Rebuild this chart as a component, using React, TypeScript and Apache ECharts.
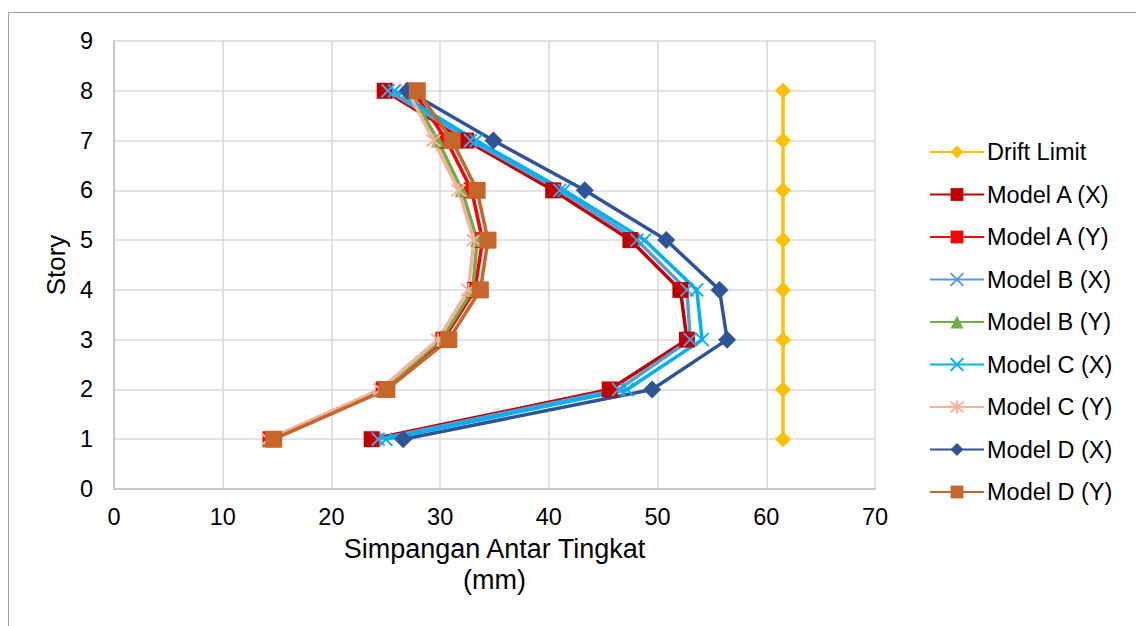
import React, { useEffect, useRef } from "react";
import * as echarts from "echarts";

const stories = [1, 2, 3, 4, 5, 6, 7, 8];
const driftLimit = [61.54, 61.54, 61.54, 61.54, 61.54, 61.54, 61.54, 61.54];
const modelAX = [23.7, 45.6, 52.7, 52.1, 47.5, 40.4, 32.4, 24.9];
const modelAY = [14.4, 24.8, 30.3, 33.2, 33.9, 32.9, 30.6, 27.5];
const modelBX = [24.3, 46.4, 53.0, 52.7, 48.1, 41.0, 32.8, 25.2];
const modelBY = [14.3, 24.7, 30.1, 33.0, 33.4, 32.0, 29.8, 27.2];
const modelCX = [25.0, 47.2, 54.1, 53.6, 48.8, 41.4, 33.3, 25.8];
const modelCY = [14.2, 24.5, 29.8, 32.6, 33.1, 31.7, 29.4, 27.0];
const modelDX = [26.6, 49.5, 56.4, 55.7, 50.8, 43.3, 34.9, 27.0];
const modelDY = [14.7, 25.1, 30.8, 33.7, 34.4, 33.4, 31.1, 27.9];

const FONT = "Liberation Sans, Arial, sans-serif";
const X_PATH = "path://M0,0L10,10M10,0L0,10";
const STAR_PATH = "path://M0,0L10,10M10,0L0,10M5,-1L5,11";

type Spec = {
  name: string;
  values: number[];
  color: string;
  symbol: string;
  size: number;
  stroke?: boolean;
};

const specs: Spec[] = [
  { name: "Drift Limit", values: driftLimit, color: "#FFC000", symbol: "diamond", size: 16 },
  { name: "Model A (X)", values: modelAX, color: "#C00000", symbol: "rect", size: 16 },
  { name: "Model A (Y)", values: modelAY, color: "#FF0000", symbol: "rect", size: 16 },
  { name: "Model B (X)", values: modelBX, color: "#5B9BD5", symbol: X_PATH, size: 13, stroke: true },
  { name: "Model B (Y)", values: modelBY, color: "#70AD47", symbol: "triangle", size: 14 },
  { name: "Model C (X)", values: modelCX, color: "#00B0F0", symbol: X_PATH, size: 13, stroke: true },
  { name: "Model C (Y)", values: modelCY, color: "#F4B29B", symbol: STAR_PATH, size: 14, stroke: true },
  { name: "Model D (X)", values: modelDX, color: "#2F5597", symbol: "diamond", size: 18 },
  { name: "Model D (Y)", values: modelDY, color: "#C5662B", symbol: "rect", size: 17 },
];

export default function App() {
  const ref = useRef<HTMLDivElement>(null);
  useEffect(() => {
    if (!ref.current) return;
    const chart = echarts.init(ref.current, undefined, { renderer: "svg" });
    const series = specs.map((s) => ({
      name: s.name,
      type: "line",
      data: s.values.map((v, i) => [v, stories[i]]),
      symbol: s.symbol,
      symbolSize: s.size,
      showSymbol: true,
      lineStyle: { color: s.color, width: 3.5 },
      itemStyle: s.stroke
        ? { color: "rgba(0,0,0,0)", borderColor: s.color, borderWidth: 2 }
        : { color: s.color, borderColor: s.color, borderWidth: 0 },
      emphasis: { disabled: true },
    }));
    chart.setOption({
      animation: false,
      backgroundColor: "#fff",
      textStyle: { fontFamily: FONT },
      grid: { left: 114, right: 261, top: 41, bottom: 137, containLabel: false },
      graphic: [
        {
          type: "rect",
          shape: { x: 8.5, y: 12.5, width: 1200, height: 700 },
          style: { fill: "none", stroke: "#A0A0A0", lineWidth: 1 },
          silent: true,
        },
      ],
      legend: {
        orient: "vertical",
        left: 929,
        top: 140,
        padding: 0,
        itemWidth: 54,
        itemHeight: 16,
        itemGap: 18.5,
        data: specs.map((s) => s.name),
        textStyle: { fontSize: 23.5, color: "#000", fontFamily: FONT, lineHeight: 24, padding: [0, 0, 0, -2] },
        selectedMode: false,
      },
      xAxis: {
        type: "value",
        min: 0,
        max: 70,
        interval: 10,
        name: "Simpangan Antar Tingkat\n(mm)",
        nameLocation: "middle",
        nameGap: 43,
        nameTextStyle: { fontSize: 27, color: "#000", fontFamily: FONT, lineHeight: 31, verticalAlign: "top" },
        axisLine: { show: true, lineStyle: { color: "#BFBFBF", width: 1.5 } },
        axisTick: { show: false },
        axisLabel: { fontSize: 23.5, color: "#000", fontFamily: FONT, margin: 16 },
        splitLine: { show: true, lineStyle: { color: "#D9D9D9", width: 1.5 } },
      },
      yAxis: {
        type: "value",
        min: 0,
        max: 9,
        interval: 1,
        name: "Story",
        nameLocation: "middle",
        nameGap: 45,
        nameTextStyle: { fontSize: 26, color: "#000", fontFamily: FONT },
        axisLine: { show: true, lineStyle: { color: "#BFBFBF", width: 1.5 } },
        axisTick: { show: false },
        axisLabel: { fontSize: 23.5, color: "#000", fontFamily: FONT, margin: 21 },
        splitLine: { show: true, lineStyle: { color: "#D9D9D9", width: 1.5 } },
      },
      series,
    });
    return () => chart.dispose();
  }, []);
  return (
    <div
      ref={ref}
      style={{ position: "absolute", left: 0, top: 0, width: 1136, height: 626 }}
    />
  );
}
